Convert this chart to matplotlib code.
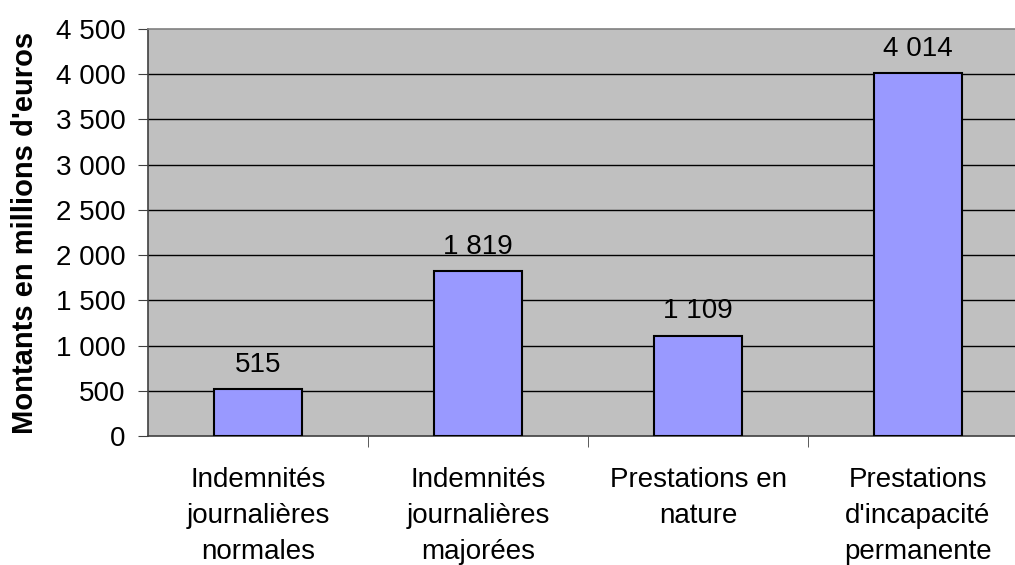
import matplotlib.pyplot as plt
import numpy as np

plt.rcParams['font.family'] = ['Liberation Sans', 'DejaVu Sans']

categories = ["Indemnités\njournalières\nnormales",
              "Indemnités\njournalières\nmajorées",
              "Prestations en\nnature",
              "Prestations\nd'incapacité\npermanente"]
values = [515, 1819, 1109, 4014]
value_labels = ["515", "1 819", "1 109", "4 014"]
yticks = list(range(0, 4501, 500))
ytick_labels = ["0", "500", "1 000", "1 500", "2 000", "2 500", "3 000", "3 500", "4 000", "4 500"]

fs = 20

fig = plt.figure(figsize=(10.15, 5.65), dpi=100)
ax = fig.add_axes([148 / 1015, 129 / 565, 880 / 1015, 407 / 565])
ax.set_facecolor('#C0C0C0')

x = np.arange(len(values))
ax.bar(x, values, width=0.40, color='#9999FF', edgecolor='black', linewidth=1.5, zorder=3)
for xi, v, lab in zip(x, values, value_labels):
    ax.text(xi, v + 125, lab, ha='center', va='bottom', fontsize=fs, zorder=4)

ax.set_xlim(-0.5, len(values) - 0.5)
ax.set_ylim(0, 4500)
ax.set_yticks(yticks)
ax.set_yticklabels(ytick_labels, fontsize=fs)
for y in yticks[1:-1]:
    ax.axhline(y, color='black', linewidth=1, zorder=1)

ax.set_xticks(x)
ax.set_xticklabels(categories, fontsize=fs, linespacing=1.5)
ax.set_xticks(np.arange(0.5, len(values) - 0.5, 1), minor=True)
ax.tick_params(axis='x', which='major', length=0, pad=22)
ax.tick_params(axis='x', which='minor', length=8, color='#404040', direction='out')
ax.tick_params(axis='y', length=7, color='#404040', direction='out', pad=9)

ax.spines['left'].set_color('#404040')
ax.spines['bottom'].set_color('#404040')
ax.spines['top'].set_color('#808080')
ax.spines['right'].set_visible(False)
for s in ax.spines.values():
    s.set_linewidth(1.2)

ax.set_ylabel("Montants en millions d'euros", fontsize=21, fontweight='bold', labelpad=12)

fig.savefig('out.png', dpi=100)
